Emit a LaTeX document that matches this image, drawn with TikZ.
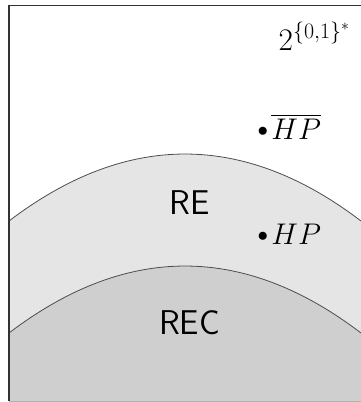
\RequirePackage{fix-cm}
\documentclass[tikz,border=0pt]{standalone}
\usepackage{amsmath}
\usepackage{fontspec}
\newcommand{\smalldot}{\vcenter{\hbox{$\scriptstyle\bullet$}}\mkern2mu}
\begin{document}
\begin{tikzpicture}[x=1bp,y=-1bp,
  region/.style={draw=black!70,line width=0.8bp},
  setlabel/.style={inner sep=0pt,anchor=base,font=\fontsize{34.5}{40}\selectfont\sffamily},
  mathlabel/.style={inner sep=0pt,anchor=base west,font=\fontsize{30}{36}\selectfont}]
\useasboundingbox (0,0) rectangle (361,402);
% RE region
\fill[gray!20] (9,221) .. controls (126.3,131.7) and (243.7,131.7) .. (361,221) -- (361,401) -- (9,401) -- cycle;
\draw[region] (9,221) .. controls (126.3,131.7) and (243.7,131.7) .. (361,221);
% REC region
\fill[gray!38] (9,333) .. controls (126.3,243.7) and (243.7,243.7) .. (361,333) -- (361,401) -- (9,401) -- cycle;
\draw[region] (9,333) .. controls (126.3,243.7) and (243.7,243.7) .. (361,333);
% frame
\draw[gray!60] (9,401) -- (361,401);
\draw[line width=1.5bp,black!80] (361,5.5) -- (9,5.5) -- (9,401);
% labels
\node[setlabel] (re) at (189.5,214) {RE};
\node[setlabel] (rec) at (189.5,334) {REC};
\node[mathlabel,font=\fontsize{31.5}{36}\selectfont] (univ) at (278.5,50) {$2^{\{0,1\}^*}$};
\node[mathlabel] (hpbar) at (257.5,139) {$\smalldot\overline{HP}$};
\node[mathlabel] (hp) at (257.5,244) {$\smalldot HP$};
\end{tikzpicture}
\end{document}
